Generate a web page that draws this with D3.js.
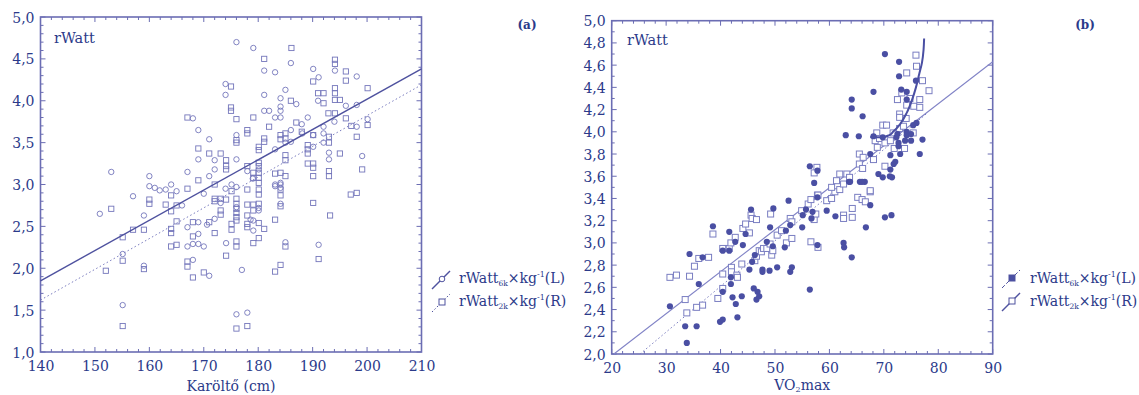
<!DOCTYPE html>
<html><head><meta charset="utf-8">
<script src="https://cdn.jsdelivr.net/npm/d3@7"></script>
<style>
body{margin:0;background:#fff;}
text{font-family:"DejaVu Serif",serif;}
</style></head>
<body><svg id="c" width="1139" height="395"></svg>
<script>
// ---------- DATA ----------
// Panel (a): x = Karöltő (cm), y = rWatt
const aXTicks = [140,150,160,170,180,190,200,210];
const aYTicks = [1.0,1.5,2.0,2.5,3.0,3.5,4.0,4.5,5.0];
const aSixK = [ // circles, rWatt6k×kg-1 (L)
[153.0,3.15],[176.0,4.70],[179.1,4.63],[186.0,4.45],[181.1,4.36],[183.1,4.34],[190.1,4.38],[191.1,4.28],
[194.1,4.36],[198.1,4.29],[174.0,4.20],[174.0,4.07],[181.1,4.07],[185.0,4.13],[184.1,4.03],[187.0,3.96],
[191.0,4.00],[196.1,3.94],[198.1,3.95],[198.1,3.69],[200.1,3.78],[199.1,3.34],[168.0,3.79],[169.0,3.65],
[181.1,3.88],[182.0,3.88],[184.1,3.93],[184.1,3.88],[183.1,3.80],[184.1,3.80],[189.1,3.80],[176.0,3.59],
[171.0,3.54],[169.0,3.30],[176.0,3.30],[172.0,3.29],[172.0,3.18],[178.0,3.16],[167.0,3.15],[171.0,3.10],
[160.0,3.10],[180.1,3.18],[183.1,3.42],[186.0,3.65],[185.0,3.50],[186.0,3.51],[190.1,3.45],[192.0,3.69],
[192.0,3.61],[192.0,3.50],[193.0,3.38],[193.0,3.30],[183.1,3.00],[184.1,3.02],[184.1,2.96],[188.1,3.61],
[190.1,3.59],[150.9,2.65],[157.0,2.86],[159.0,2.63],[155.1,2.17],[155.1,1.56],[159.0,2.03],[160.0,2.98],
[161.0,2.96],[161.9,2.93],[163.0,2.94],[164.0,3.00],[165.0,2.92],[167.0,2.49],[167.0,2.26],[168.0,2.10],
[168.0,2.29],[169.0,2.55],[169.0,2.41],[169.0,2.29],[170.0,2.89],[170.0,2.26],[171.0,1.91],[172.0,2.59],
[173.1,2.78],[174.1,2.30],[175.1,3.00],[176.0,2.97],[176.0,2.73],[176.0,1.45],[177.0,1.98],[178.0,1.47],
[179.1,2.45],[179.1,2.57],[180.1,2.69],[183.1,2.98],[184.1,3.00],[185.0,2.31],[191.1,2.28],[180.1,2.72],
[170.6,2.52],[174.0,2.95],[178.6,2.58],[184.1,2.77],[166.0,2.75],[188.0,3.72],[194.0,3.75],[179.0,3.07]
];
const aTwoK = [ // squares, rWatt2k×kg-1 (R)
[186.1,4.63],[181.1,4.50],[190.1,4.23],[194.1,4.49],[194.1,4.44],[196.1,4.35],[196.1,4.24],[200.1,4.15],
[175.0,4.17],[186.0,4.00],[191.0,4.09],[192.0,4.09],[192.0,3.97],[194.1,4.15],[194.1,4.09],[194.1,4.01],
[195.0,4.01],[192.9,3.85],[194.1,3.85],[196.1,3.79],[197.1,3.70],[200.1,3.71],[198.1,3.57],[199.1,3.18],
[167.0,3.80],[176.0,3.78],[179.1,3.80],[175.0,3.92],[175.0,3.88],[182.0,3.69],[178.0,3.65],[178.0,3.61],
[176.0,3.53],[176.0,3.50],[181.1,3.55],[181.1,3.51],[180.1,3.45],[180.1,3.41],[169.0,3.43],[171.0,3.37],
[173.1,3.37],[174.1,3.29],[174.1,3.22],[174.1,3.18],[178.0,3.22],[180.1,3.26],[180.1,3.22],[169.0,3.05],
[179.1,3.14],[179.1,3.08],[180.1,3.14],[180.1,3.08],[180.1,3.02],[184.1,3.59],[184.1,3.54],[185.0,3.61],
[185.0,3.55],[187.0,3.74],[188.0,3.63],[189.1,3.47],[189.1,3.42],[189.1,3.37],[190.1,3.59],[193.0,3.57],
[193.0,3.50],[195.0,3.37],[193.0,3.16],[193.0,3.10],[189.1,3.25],[190.1,3.25],[190.1,3.20],[190.1,3.10],
[185.0,3.35],[185.0,3.29],[183.1,3.13],[184.1,3.14],[185.0,3.10],[153.0,2.71],[157.0,2.46],[159.0,2.46],
[152.0,1.97],[155.1,2.37],[155.1,2.09],[155.1,1.31],[159.0,1.99],[160.0,2.82],[160.0,2.77],[163.0,2.76],
[164.0,2.87],[164.0,2.68],[164.0,2.47],[164.0,2.42],[164.0,2.26],[165.0,2.75],[165.0,2.56],[165.0,2.28],
[167.0,2.95],[167.0,2.08],[167.0,2.02],[168.0,2.55],[168.0,2.38],[168.0,1.89],[170.0,1.95],[171.0,2.55],
[172.0,3.00],[172.0,2.83],[172.0,2.80],[172.0,2.42],[173.1,2.83],[173.1,2.69],[173.1,2.64],[174.1,2.82],
[174.1,2.15],[175.1,2.92],[175.1,2.53],[175.1,2.46],[176.0,2.83],[176.0,2.77],[176.0,2.71],[176.0,2.66],
[176.0,2.61],[176.0,2.57],[176.0,2.32],[176.0,2.26],[176.0,1.28],[178.0,2.94],[178.0,2.76],[178.0,2.63],
[178.0,2.53],[178.0,2.49],[178.0,1.31],[179.1,2.76],[179.1,2.69],[179.1,2.30],[180.1,2.77],[180.1,2.54],
[180.1,2.36],[181.1,2.47],[183.1,2.58],[183.1,1.96],[184.1,2.94],[184.1,2.87],[184.1,2.74],[184.1,2.04],
[185.0,2.26],[190.1,2.78],[191.1,2.11],[193.2,2.63],[197.0,2.88],[198.1,2.90],[180.1,2.94],[180.1,2.88]
];
// Fitted lines (a)
const aFitL = [[140,1.85],[210,4.38]];
const aFitR = [[140,1.62],[210,4.19]];

// Panel (b): x = VO2max, y = rWatt
const bXTicks = [20,30,40,50,60,70,80,90];
const bYTicks = [2.0,2.2,2.4,2.6,2.8,3.0,3.2,3.4,3.6,3.8,4.0,4.2,4.4,4.6,4.8,5.0];
const bSixK = [ // filled circles (L)
[30.7,2.43],[33.5,2.25],[33.8,2.10],[34.3,2.90],[35.6,2.25],[36.0,2.63],[36.7,2.87],[38.6,3.15],
[39.9,2.29],[40.4,2.31],[40.4,2.93],[40.4,2.56],[41.6,3.10],[41.6,2.93],[41.9,2.69],[41.9,2.63],
[42.2,2.51],[42.7,3.01],[42.8,2.45],[43.1,2.33],[43.9,2.52],[44.1,2.98],[44.6,3.08],[45.3,2.76],
[45.6,3.30],[45.8,2.83],[46.1,2.59],[46.3,2.89],[46.8,2.56],[46.6,2.49],[47.1,2.52],[47.7,2.76],
[47.7,2.74],[48.5,3.01],[49.0,2.75],[49.1,3.14],[49.6,2.97],[49.7,3.31],[50.4,2.78],[51.8,2.96],
[52.0,3.11],[52.5,3.38],[52.8,3.16],[52.8,2.74],[53.1,2.78],[55.0,3.14],[55.1,3.25],[55.7,3.30],
[56.4,2.58],[56.7,3.22],[56.9,3.28],[57.8,3.41],[57.8,2.98],[59.5,3.29],[61.1,3.24],[62.6,3.00],
[62.7,2.96],[64.1,2.87],[66.7,3.14],[67.5,3.34],[70.2,3.23],[71.4,3.25],[57.2,3.54],[63.6,3.55],
[65.6,3.55],[66.5,3.55],[70.2,4.70],[72.8,4.63],[72.8,4.50],[68.1,4.36],[73.2,4.38],[74.2,4.36],
[74.2,4.29],[75.9,4.46],[64.1,4.29],[64.1,4.21],[66.1,4.14],[63.0,3.97],[65.4,3.96],[68.1,3.96],
[69.8,3.95],[72.3,3.95],[74.2,4.00],[74.2,3.97],[75.0,3.98],[75.0,3.92],[75.4,4.06],[76.0,4.08],
[77.1,3.93],[76.6,3.80],[72.7,3.90],[72.7,3.87],[73.0,3.80],[71.2,3.79],[72.1,3.73],[71.8,3.71],
[71.2,3.66],[71.5,3.59],[67.5,3.80],[69.0,3.62],[69.8,3.59],[63.8,3.55],[66.0,3.55],[56.4,3.69],
[57.8,3.65],[71.1,3.60],[73.9,3.92],[72.5,3.98]
];
const bTwoK = [ // open squares (R)
[30.7,2.69],[31.9,2.71],[33.5,2.49],[33.8,2.37],[34.3,2.70],[35.2,2.79],[36.0,2.86],[36.7,2.44],
[35.6,2.42],[37.8,2.87],[38.6,3.08],[39.5,2.50],[40.4,2.95],[40.4,2.72],[40.4,2.59],[41.6,2.95],
[41.9,3.00],[42.0,2.78],[42.0,2.74],[42.7,3.05],[43.0,2.71],[43.1,2.69],[43.9,2.81],[44.1,3.13],
[44.6,3.17],[45.3,3.09],[45.6,3.25],[45.8,3.22],[46.6,3.21],[46.3,2.84],[46.6,2.88],[47.1,2.93],
[47.5,2.92],[47.9,2.95],[48.5,2.95],[49.1,2.99],[49.2,3.26],[49.4,2.89],[49.6,2.93],[50.4,3.07],
[51.2,3.11],[52.1,3.00],[52.8,3.22],[53.1,3.19],[53.1,3.04],[54.9,3.29],[56.1,3.35],[56.6,3.39],
[56.6,3.01],[57.2,3.21],[57.5,3.26],[57.8,3.43],[57.9,2.96],[59.5,3.38],[60.4,3.40],[61.0,3.46],
[61.9,3.48],[62.6,3.25],[62.6,3.22],[64.2,3.31],[64.2,3.23],[65.2,3.41],[66.0,3.39],[66.6,3.37],
[67.5,3.46],[62.6,3.53],[75.9,4.69],[76.0,4.59],[74.2,4.53],[77.1,4.46],[78.3,4.37],[72.5,4.29],
[73.3,4.35],[74.8,4.30],[74.2,4.24],[75.5,4.23],[76.6,4.29],[76.6,4.22],[72.9,4.16],[72.9,4.13],
[74.1,4.12],[69.8,4.06],[70.5,4.06],[68.7,3.99],[71.7,3.99],[72.9,4.03],[73.6,4.05],[75.4,3.99],
[68.4,3.92],[69.2,3.94],[70.2,3.90],[71.2,3.92],[68.8,3.86],[71.9,3.85],[73.8,3.85],[65.5,3.80],
[66.2,3.77],[68.1,3.75],[65.5,3.71],[66.1,3.67],[70.2,3.69],[67.5,3.47],[61.9,3.62],[63.2,3.62],
[63.7,3.59],[61.3,3.56],[60.4,3.50],[57.7,3.68],[57.2,3.63],[57.9,3.43]
];
const bFitL = [[20.4,2.0],[90,4.63]];
const bFitR = [[25.2,2.0],[78,4.17]];
const bCurve = [[67.5,3.95],[69.6,3.95],[71.0,3.97],[71.7,4.00],[73.0,4.07],[74.2,4.17],[75.2,4.29],
[75.9,4.40],[76.5,4.52],[77.0,4.62],[77.3,4.74],[77.4,4.84]];

// ---------- DRAW ----------
const svg = d3.select("#c");
const TXT = "#2b3a8a", FRAME = "#6b6db3";
const fmt = v => d3.format(".1f")(v).replace(".", ",");

function panel(o){
  const x = d3.scaleLinear().domain(o.xd).range([o.l, o.r]);
  const y = d3.scaleLinear().domain(o.yd).range([o.b, o.t]);
  const g = svg.append("g");
  const tk = g.append("g").attr("stroke", FRAME).attr("stroke-width", 1);
  d3.range(o.xd[0], o.xd[1] + 1e-9, o.xMinor).forEach(v => {
    const major = Math.abs(v / o.xMajor - Math.round(v / o.xMajor)) < 1e-6, len = major ? 5 : 3;
    tk.append("line").attr("x1", x(v)).attr("x2", x(v)).attr("y1", o.b).attr("y2", o.b - len);
    tk.append("line").attr("x1", x(v)).attr("x2", x(v)).attr("y1", o.t).attr("y2", o.t + len);
  });
  d3.range(o.yd[0], o.yd[1] + 1e-9, o.yMinor).forEach(v => {
    const major = Math.abs(v / o.yMajor - Math.round(v / o.yMajor)) < 1e-6, len = major ? 5 : 3;
    tk.append("line").attr("y1", y(v)).attr("y2", y(v)).attr("x1", o.l).attr("x2", o.l + len);
    tk.append("line").attr("y1", y(v)).attr("y2", y(v)).attr("x1", o.r).attr("x2", o.r - len);
  });
  g.append("rect").attr("x", o.l).attr("y", o.t).attr("width", o.r - o.l).attr("height", o.b - o.t)
    .attr("fill", "none").attr("stroke", FRAME).attr("stroke-width", 1.6);
  const ax = g.append("g").attr("transform", `translate(0,${o.b})`)
    .call(d3.axisBottom(x).tickValues(o.xTicks).tickSize(0).tickPadding(8).tickFormat(d3.format("d")));
  const ay = g.append("g").attr("transform", `translate(${o.l},0)`)
    .call(d3.axisLeft(y).tickValues(o.yTicks).tickSize(0).tickPadding(6).tickFormat(fmt));
  [ax, ay].forEach(a => {
    a.select(".domain").remove();
    a.selectAll("text").attr("fill", TXT).style("font-size", "14px").style("font-family", '"DejaVu Serif",serif');
  });
  ax.selectAll("text").attr("dy", "0.8em");
  ay.selectAll("text").attr("dy", "0.36em");
  return {x, y, g};
}

function lineOf(p, data){
  return d3.line().x(d => p.x(d[0])).y(d => p.y(d[1]))(data);
}

// ----- Panel A -----
const A = panel({xd:[140,210], yd:[1,5], l:40.5, r:421.5, t:17, b:352,
  xTicks:aXTicks, yTicks:aYTicks, xMinor:2, xMajor:10, yMinor:0.1, yMajor:0.5});
const aCol = "#7476bb";
A.g.append("g").selectAll("rect").data(aTwoK).join("rect")
  .attr("x", d => A.x(d[0]) - 2.6).attr("y", d => A.y(d[1]) - 2.6).attr("width", 5.2).attr("height", 5.2)
  .attr("fill", "none").attr("stroke", aCol).attr("stroke-width", 0.9);
A.g.append("g").selectAll("circle").data(aSixK).join("circle")
  .attr("cx", d => A.x(d[0])).attr("cy", d => A.y(d[1])).attr("r", 2.7)
  .attr("fill", "none").attr("stroke", aCol).attr("stroke-width", 0.9);
A.g.append("path").attr("d", lineOf(A, aFitR)).attr("fill", "none").attr("stroke", "#7a7cbf")
  .attr("stroke-width", 1).attr("stroke-dasharray", "1.5,2.5");
A.g.append("path").attr("d", lineOf(A, aFitL)).attr("fill", "none").attr("stroke", "#4f529f")
  .attr("stroke-width", 1.4);
A.g.append("text").attr("x", 54).attr("y", 43).attr("fill", TXT).style("font-size", "14.5px").text("rWatt");
A.g.append("text").attr("x", A.x(140 + 35)).attr("y", 391).attr("text-anchor", "middle")
  .attr("fill", TXT).style("font-size", "14px").text("Karöltő (cm)");
A.g.append("text").attr("x", 527).attr("y", 29).attr("text-anchor", "middle").attr("fill", TXT)
  .style("font-size", "12px").style("font-weight", "bold").text("(a)");

// ----- Panel B -----
const B = panel({xd:[20,90], yd:[2,5], l:611.7, r:992.7, t:20.7, b:354,
  xTicks:bXTicks, yTicks:bYTicks, xMinor:2, xMajor:10, yMinor:0.1, yMajor:0.2});
B.g.append("path").attr("d", lineOf(B, bFitR)).attr("fill", "none").attr("stroke", "#7a7cbf")
  .attr("stroke-width", 1).attr("stroke-dasharray", "1.5,2.5");
B.g.append("path").attr("d", lineOf(B, bFitL)).attr("fill", "none").attr("stroke", "#8183c6")
  .attr("stroke-width", 1.1);
B.g.append("g").selectAll("rect").data(bTwoK).join("rect")
  .attr("x", d => B.x(d[0]) - 3).attr("y", d => B.y(d[1]) - 3).attr("width", 6).attr("height", 6)
  .attr("fill", "#fff").attr("stroke", "#7a7ec2").attr("stroke-width", 1);
B.g.append("g").selectAll("circle").data(bSixK).join("circle")
  .attr("cx", d => B.x(d[0])).attr("cy", d => B.y(d[1])).attr("r", 3.1)
  .attr("fill", "#4a4fa3");
B.g.append("path").attr("d", d3.line().curve(d3.curveMonotoneY).x(d => B.x(d[0])).y(d => B.y(d[1]))(bCurve))
  .attr("fill", "none").attr("stroke", "#4a4fa3").attr("stroke-width", 2);
B.g.append("text").attr("x", 627).attr("y", 45).attr("fill", TXT).style("font-size", "14.5px").text("rWatt");
const vt = B.g.append("text").attr("x", B.x(55)).attr("y", 390).attr("text-anchor", "middle")
  .attr("fill", TXT).style("font-size", "14px");
vt.append("tspan").text("VO");
vt.append("tspan").attr("dy", 2).style("font-size", "8px").text("2");
vt.append("tspan").attr("dy", -2).text("max");
B.g.append("text").attr("x", 1085).attr("y", 29).attr("text-anchor", "middle").attr("fill", TXT)
  .style("font-size", "12px").style("font-weight", "bold").text("(b)");

// ----- Legends -----
function legendText(x, y, sub, side){
  const t = svg.append("text").attr("x", x).attr("y", y).attr("fill", TXT).style("font-size", "14px");
  t.append("tspan").text("rWatt");
  t.append("tspan").attr("dy", 3).style("font-size", "7.5px").text(sub);
  t.append("tspan").attr("dy", -3).text("×kg");
  t.append("tspan").attr("dy", -6).style("font-size", "8px").text("-1");
  t.append("tspan").attr("dy", 6).text("(" + side + ")");
}
function legendSym(cx, cy, dash, marker, filled){
  svg.append("line").attr("x1", cx - 10).attr("y1", cy + 10).attr("x2", cx + 8).attr("y2", cy - 8)
    .attr("stroke", "#4f529f").attr("stroke-width", dash ? 1 : 1.4).attr("stroke-dasharray", dash || null);
  if (marker === "circle") svg.append("circle").attr("cx", cx).attr("cy", cy).attr("r", 2.8)
    .attr("fill", filled ? "#4a4fa3" : "#fff").attr("stroke", "#4f529f").attr("stroke-width", 1);
  else svg.append("rect").attr("x", cx - 3).attr("y", cy - 3).attr("width", 6).attr("height", 6)
    .attr("fill", filled ? "#4a4fa3" : "#fff").attr("stroke", "#4f529f").attr("stroke-width", 1);
}
legendSym(442, 279, null, "circle", false);
legendText(459, 283, "6k", "L");
legendSym(442, 302, "1.5,2", "rect", false);
legendText(459, 306, "2k", "R");
legendSym(1012, 278, "4,2", "rect", true);
legendText(1030, 283, "6k", "L");
legendSym(1012, 301, null, "rect", false);
legendText(1030, 306, "2k", "R");
</script></body></html>
